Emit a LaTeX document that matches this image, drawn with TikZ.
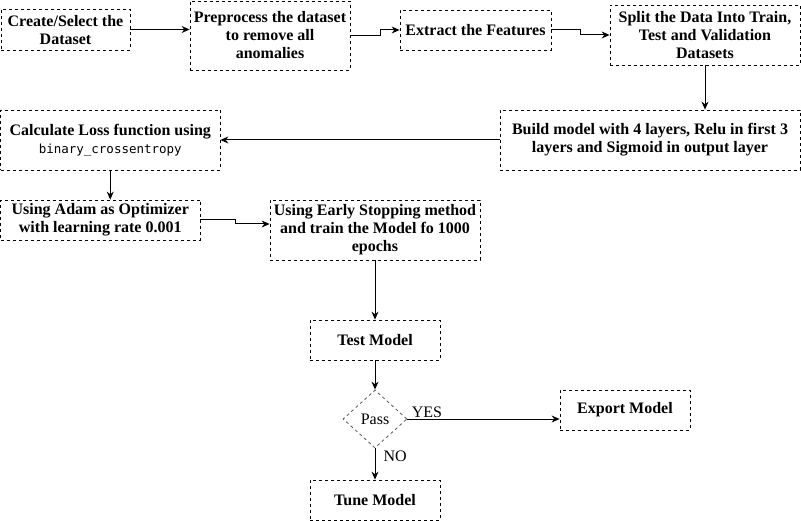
\documentclass[tikz,border=0pt]{standalone}
\usepackage{fontspec}
\setmainfont{Liberation Serif}
\setmonofont{DejaVu Sans Mono}
\usetikzlibrary{arrows.meta,shapes.geometric}

\begin{document}
\begin{tikzpicture}[x=1pt, y=-1pt, >={Stealth[length=8pt,width=7pt]},
		box/.style={draw, dash pattern=on 3pt off 3pt, line width=0.8pt, align=center, inner sep=0pt, font=\fontsize{16}{18}\selectfont\bfseries},
		decision/.style={diamond, draw=black!65, dash pattern=on 3pt off 3pt, line width=0.8pt, inner sep=0pt, font=\fontsize{16}{18}\selectfont},
		flow/.style={->, line width=1pt},
		lbl/.style={inner sep=1pt, font=\fontsize{16}{18}\selectfont}]
			\useasboundingbox (0, 0) rectangle (801, 521);
			\node[box, minimum width=129pt, minimum height=41pt] (S_1) at (65.5, 30) {Create/Select the\\Dataset};
			\node[box, minimum width=160pt, minimum height=69pt] (S_2) at (270, 35.5) {Preprocess the dataset\\to remove all\\anomalies};
			\node[box, minimum width=151pt, minimum height=40pt] (S_3) at (475.5, 30) {Extract the Features};
			\node[box, minimum width=190pt, minimum height=60pt] (S_4) at (705, 35) {Split the Data Into Train,\\Test and Validation\\Datasets};
			\node[box, minimum width=300pt, minimum height=60pt] (S_5) at (650, 140) {Build model with 4 layers, Relu in first 3\\layers and Sigmoid in output layer};
			\node[box, minimum width=219.5pt, minimum height=60pt] (S_6) at (110.25, 140) {Calculate Loss function using\\{\mdseries\ttfamily\fontsize{12.5}{15}\selectfont binary\_crossentropy}};
			\node[box, minimum width=199.5pt, minimum height=40pt] (S_7) at (100.25, 220) {Using Adam as Optimizer\\with learning rate 0.001};
			\node[box, minimum width=210pt, minimum height=60pt] (S_8) at (375, 230) {Using Early Stopping method\\and train the Model fo 1000\\epochs};
			\node[box, minimum width=130pt, minimum height=40pt] (S_9) at (375, 340) {Test Model};
			\node[decision, minimum width=64pt, minimum height=58pt] (D_pass) at (375, 419) {Pass};
			\node[box, minimum width=130pt, minimum height=40pt] (S_10) at (625, 410) {Export Model};
			\node[box, minimum width=130pt, minimum height=40pt] (S_11) at (375, 500) {Tune Model};
			\draw[flow] (S_1.east) -- ++(30, 0) |- ([yshift=6pt]S_2.west);
			\draw[flow] (S_2.east) -- ++(30, 0) |- (S_3.west);
			\draw[flow] (S_3.east) -- ++(29, 0) |- (S_4.west);
			\draw[flow] (S_4.south) -- (S_4.south |- S_5.north);
			\draw[flow] (S_5.west) -- (S_6.east);
			\draw[flow] (S_6.south) -- (S_6.south |- S_7.north);
			\draw[flow] (S_7.east) -- ++(35, 0) |- ([yshift=6pt]S_8.west);
			\draw[flow] (S_8.south) -- (S_9.north);
			\draw[flow] (S_9.south) -- (D_pass.north);
			\draw[flow] (D_pass.east) -- (D_pass.east -| S_10.west) node[lbl, pos=0, above right, xshift=3pt] {YES};
			\draw[flow] (D_pass.south) -- (S_11.north) node[lbl, pos=0.25, right, xshift=7pt] {NO};
		\end{tikzpicture}
\end{document}
